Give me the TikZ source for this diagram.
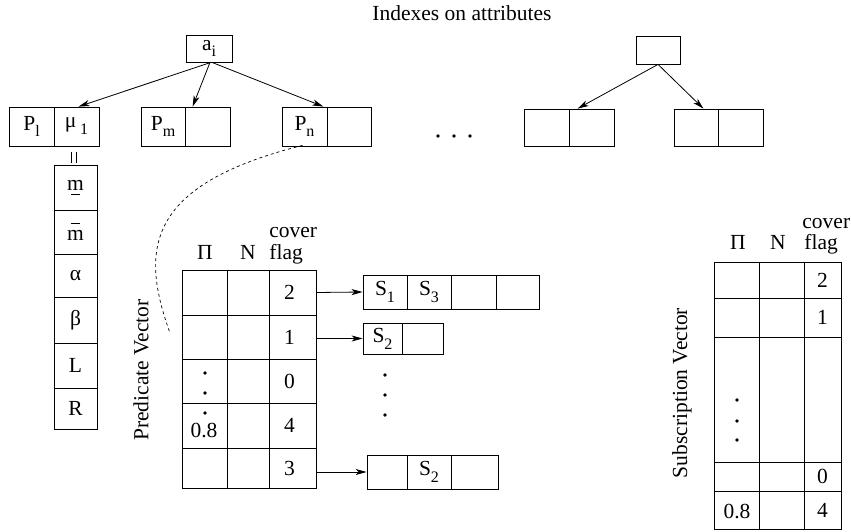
\documentclass[tikz,border=0pt]{standalone}
\usepackage{fontspec}
\setmainfont{Liberation Serif}
\usetikzlibrary{arrows.meta,calc}
\newcommand{\sbs}[1]{\raisebox{-0.32em}{\fontsize{16}{16}\selectfont #1}}
\newcommand{\ovm}{\leavevmode\rlap{\hspace{0.17em}\raisebox{0.78em}{\rule{0.44em}{0.7pt}}}m}
\newcommand{\unm}{\leavevmode\rlap{\hspace{0.17em}\raisebox{-0.2em}{\rule{0.44em}{0.7pt}}}m}
\begin{document}
\begin{tikzpicture}[x=1pt,y=-1pt,
  every node/.style={font=\fontsize{21.5}{25}\selectfont},
  cell/.style={draw,line width=0.8pt,inner sep=0pt,anchor=center},
  lbl/.style={inner sep=0pt},
  link/.style={line width=0.8pt,-{Stealth[length=11pt,width=6pt,inset=3pt]}},
  dotm/.style={fill,circle,inner sep=0pt,minimum size=3.8pt},
  line width=0.8pt]
\useasboundingbox (0,0) rectangle (851,532);
% title
\node[lbl,anchor=base] (title) at (462,20.5) {Indexes on attributes};
% top left index
\node[cell,minimum width=46pt,minimum height=27pt] (ai) at (209,48.5) {a\sbs{i}};
\node[cell,minimum width=45pt,minimum height=39pt] (pl1) at (31.5,126.5) {P\sbs{l}};
\node[cell,minimum width=45pt,minimum height=39pt] (pl2) at (76.5,126.5) {μ\,\sbs{1}};
\node[cell,minimum width=44pt,minimum height=39pt] (pm1) at (163,126.5) {P\sbs{m}};
\node[cell,minimum width=45pt,minimum height=39pt] (pm2) at (207.5,126.5) {};
\node[cell,minimum width=45pt,minimum height=39pt] (pn1) at (304.5,126.5) {P\sbs{n}};
\node[cell,minimum width=44pt,minimum height=39pt] (pn2) at (349,126.5) {};
\draw[link] ([xshift=2pt]ai.south) -- ([xshift=2pt]pl2.north);
\draw[link] ([xshift=1pt]ai.south) -- ([xshift=8pt]pm2.north west);
\draw[link] ([xshift=3pt]ai.south) -- ([xshift=-4pt]pn1.north east);
% ellipsis
\node[dotm] (e1) at (438,136) {};
\node[dotm] (e2) at (454,136) {};
\node[dotm] (e3) at (470,136) {};
% top right index
\node[cell,minimum width=44pt,minimum height=28pt] (tr) at (658,50) {};
\node[cell,minimum width=45pt,minimum height=37pt] (rl1) at (546.5,127.5) {};
\node[cell,minimum width=45pt,minimum height=37pt] (rl2) at (591.5,127.5) {};
\node[cell,minimum width=44pt,minimum height=37pt] (rr1) at (696,127.5) {};
\node[cell,minimum width=45pt,minimum height=37pt] (rr2) at (740.5,127.5) {};
\draw[link] (tr.south) -- ([xshift=9pt]rl2.north west);
\draw[link] (tr.south) -- ([xshift=-15pt]rr1.north east);
% attribute column
\node[cell,minimum width=43pt,minimum height=45pt] (c1) at (75.5,187.5) {\unm};
\node[cell,minimum width=43pt,minimum height=44pt] (c2) at (75.5,232) {\ovm};
\node[cell,minimum width=43pt,minimum height=43pt] (c3) at (75.5,275.5) {α};
\node[cell,minimum width=43pt,minimum height=46pt] (c4) at (75.5,320) {β};
\node[cell,minimum width=43pt,minimum height=45pt] (c5) at (75.5,365.5) {L};
\node[cell,minimum width=43pt,minimum height=41pt] (c6) at (75.5,408.5) {R};
\draw ([xshift=-4.5pt,yshift=2pt]c1.north) -- ++(0,-11);
\draw ([xshift=0.5pt,yshift=2pt]c1.north) -- ++(0,-11);
% dashed link
\coordinate (dend) at (170,333);
\draw[dashed,line width=0.7pt] ([xshift=-2pt,yshift=1pt]pn1.south) .. controls (145,185) and (140,250) .. (dend);
% predicate vector
\node[lbl,rotate=90] (pvl) at (141,370) {Predicate Vector};
\node[lbl,anchor=base] (ph1) at (205,259) {Π};
\node[lbl,anchor=base] (ph2) at (248,259) {N};
\node[lbl,anchor=base west] (ph3a) at (269,237) {cover};
\node[lbl,anchor=base west] (ph3b) at (269,259) {flag};
\foreach \r/\yc/\h/\t in {1/292.5/45/2, 2/337/44/1, 3/381/44/0, 4/425.5/45/4, 5/468/40/3}{
  \node[cell,minimum width=45pt,minimum height=\h pt] (p\r a) at (204.5,\yc) {};
  \node[cell,minimum width=42pt,minimum height=\h pt] (p\r b) at (248,\yc) {};
  \node[cell,minimum width=47pt,minimum height=\h pt] (p\r c) at (292.5,\yc) {\hspace*{-6pt}\t};
}
\node[dotm] (pd1) at (205,373) {};
\node[dotm] (pd2) at (205,393) {};
\node[dotm] (pd3) at (205,413) {};
\node[lbl] (p08) at (204,430) {0.8};
% subscription lists
\node[cell,minimum width=44pt,minimum height=34pt] (sa1) at (385,292) {S\sbs{1}};
\node[cell,minimum width=44pt,minimum height=34pt] (sa2) at (429,292) {S\sbs{3}};
\node[cell,minimum width=45pt,minimum height=34pt] (sa3) at (473.5,292) {};
\node[cell,minimum width=43pt,minimum height=34pt] (sa4) at (517.5,292) {};
\node[cell,minimum width=39pt,minimum height=31pt] (sb1) at (382.5,338.5) {S\sbs{2}};
\node[cell,minimum width=41pt,minimum height=31pt] (sb2) at (422.5,338.5) {};
\node[cell,minimum width=40pt,minimum height=34pt] (sc1) at (387,472) {};
\node[cell,minimum width=44pt,minimum height=34pt] (sc2) at (429,472) {S\sbs{2}};
\node[cell,minimum width=47pt,minimum height=34pt] (sc3) at (474.5,472) {};
\draw[link] (p1c.east) -- (sa1.west);
\draw[link] (p2c.east |- sb1.west) -- (sb1.west);
\draw[link] (p5c.east |- sc1.west) -- (sc1.west);
\node[dotm] (vd1) at (385,375) {};
\node[dotm] (vd2) at (385,395) {};
\node[dotm] (vd3) at (385,415) {};
% subscription vector
\node[lbl,rotate=90] (svl) at (682,393) {Subscription Vector};
\node[lbl,anchor=base] (sh1) at (738,249) {Π};
\node[lbl,anchor=base] (sh2) at (778,249) {N};
\node[lbl,anchor=base west] (sh3a) at (802,228) {cover};
\node[lbl,anchor=base west] (sh3b) at (804,249) {flag};
\foreach \r/\yc/\h/\t in {1/280/36/2, 2/317.5/39/1, 3/399.5/125/, 4/476.5/29/0, 5/510/38/4}{
  \node[cell,minimum width=45pt,minimum height=\h pt] (s\r a) at (736.5,\yc) {};
  \node[cell,minimum width=45pt,minimum height=\h pt] (s\r b) at (781.5,\yc) {};
  \node[cell,minimum width=37pt,minimum height=\h pt] (s\r c) at (822.5,\yc) {\t};
}
\node[lbl] (s08) at (737,511) {0.8};
\node[dotm] (sd1) at (737,400) {};
\node[dotm] (sd2) at (737,421) {};
\node[dotm] (sd3) at (737,440) {};
\end{tikzpicture}
\end{document}
